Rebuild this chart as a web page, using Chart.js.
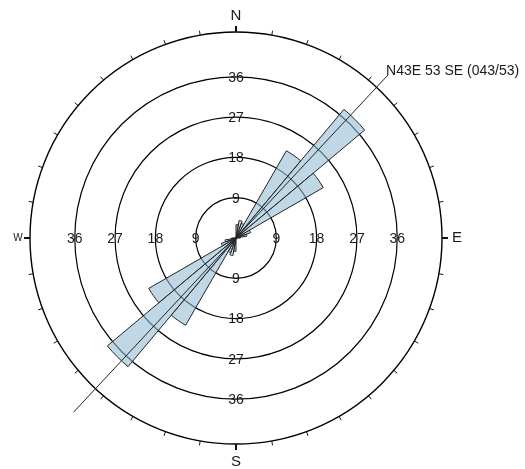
<!DOCTYPE html>
<html>
<head>
<meta charset="utf-8">
<script src="https://cdn.jsdelivr.net/npm/chart.js@4/dist/chart.umd.min.js"></script>
<style>
  html, body { margin: 0; padding: 0; background: #ffffff; }
  canvas { display: block; }
</style>
</head>
<body>
<canvas id="c" width="525" height="469"></canvas>
<script>
// ---- data ----
// 10-degree azimuth bins, clockwise from North
const binLabels = ['0-10','10-20','20-30','30-40','40-50','50-60','60-70','70-80','80-90',
  '90-100','100-110','110-120','120-130','130-140','140-150','150-160','160-170','170-180',
  '180-190','190-200','200-210','210-220','220-230','230-240','240-250','250-260','260-270',
  '270-280','280-290','290-300','300-310','310-320','320-330','330-340','340-350','350-360'];
const binValues = [3, 4, 3.5, 22.5, 37.5, 22.5, 3.5, 2.5, 1,
  0, 0, 0, 0, 0, 0, 0, 0, 0,
  3, 4, 3.5, 22.5, 37.5, 22.5, 3.5, 2.5, 1,
  0, 0, 0, 0, 0, 0, 0, 0, 0];
const ringValues = [9, 18, 27, 36];
const outerValue = 46;
const tickStepDeg = 10;
const cardinalLabels = ['N', 'E', 'S', 'W'];
const cardinalAngles = [0, 90, 180, 270];
const meanDirection = 43;
const meanLabel = 'N43E 53 SE (043/53)';
const meanLineLengths = [49.8, 53.2]; // toward mean direction, toward opposite

const FONT = '"Liberation Sans", Arial, sans-serif';

const rosePlugin = {
  id: 'rose',
  afterDraw(chart) {
    const s = chart.scales.r;
    const ctx = chart.ctx;
    const cx = s.xCenter, cy = s.yCenter;
    const R = s.getDistanceFromCenterForValue(outerValue);
    const pt = (az, r) => [cx + r * Math.sin(az * Math.PI / 180), cy - r * Math.cos(az * Math.PI / 180)];
    ctx.save();
    // outer ticks
    ctx.strokeStyle = '#111';
    for (let a = 0; a < 360; a += tickStepDeg) {
      const card = a % 90 === 0;
      ctx.lineWidth = card ? 2 : 1;
      const p1 = pt(a, R), p2 = pt(a, R + (card ? 6 : 4.5));
      ctx.beginPath(); ctx.moveTo(p1[0], p1[1]); ctx.lineTo(p2[0], p2[1]); ctx.stroke();
    }
    // ring labels on the four axes
    ctx.fillStyle = '#1a1a1a';
    ctx.font = '14px ' + FONT;
    ctx.textAlign = 'center';
    ctx.textBaseline = 'middle';
    ringValues.forEach(v => {
      const d = s.getDistanceFromCenterForValue(v);
      cardinalAngles.forEach(a => {
        const p = pt(a, d);
        ctx.fillText(String(v), p[0], p[1] + 1);
      });
    });
    // cardinal labels
    const offs = { N: 16, E: 15, S: 18, W: 12 };
    cardinalLabels.forEach((lab, i) => {
      const a = cardinalAngles[i];
      const small = lab === 'W';
      ctx.font = (small ? '10px ' : '15px ') + FONT;
      const p = pt(a, R + offs[lab]);
      ctx.fillText(lab, p[0], p[1]);
    });
    // mean direction line
    ctx.strokeStyle = '#222';
    ctx.lineWidth = 1;
    const pA = pt(meanDirection, s.getDistanceFromCenterForValue(meanLineLengths[0]));
    const pB = pt(meanDirection + 180, s.getDistanceFromCenterForValue(meanLineLengths[1]));
    ctx.beginPath(); ctx.moveTo(pB[0], pB[1]); ctx.lineTo(pA[0], pA[1]); ctx.stroke();
    ctx.font = '14px ' + FONT;
    ctx.textAlign = 'left';
    ctx.fillStyle = '#1a1a1a';
    ctx.fillText(meanLabel, pA[0] - 2, pA[1] - 4);
    ctx.restore();
  }
};

new Chart(document.getElementById('c'), {
  type: 'polarArea',
  data: {
    labels: binLabels,
    datasets: [{
      data: binValues,
      backgroundColor: 'rgba(150,190,213,0.6)',
      borderColor: '#222',
      borderWidth: 1
    }]
  },
  options: {
    responsive: false,
    animation: false,
    layout: { padding: { left: 30, right: 83, top: 32, bottom: 25 } },
    plugins: { legend: { display: false }, tooltip: { enabled: false } },
    scales: {
      r: {
        min: 0,
        max: outerValue,
        startAngle: 0,
        angleLines: { display: false },
        pointLabels: { display: false },
        ticks: { display: false },
        afterBuildTicks: (scale) => {
          scale.ticks = [0, ...ringValues, outerValue].map(v => ({ value: v }));
        },
        grid: {
          circular: true,
          color: '#000',
          lineWidth: (c) => (c.tick && c.tick.value === outerValue ? 1.4 : 1.2)
        }
      }
    }
  },
  plugins: [rosePlugin]
});
</script>
</body>
</html>
